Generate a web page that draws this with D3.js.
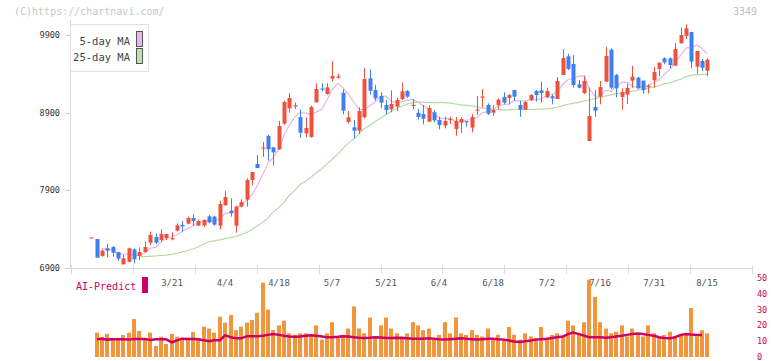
<!DOCTYPE html>
<html><head><meta charset="utf-8">
<script src="https://cdn.jsdelivr.net/npm/d3@7"></script>
<style>body{margin:0;background:#fff}svg{display:block}</style>
</head><body><svg id="c" width="772" height="361"></svg>
<script>
// ---- data ----
const opens = [7295,7273,7055,7153,7170,7106,6947,6981,7140,7055,7106,7226,7299,7260,7286,7280,7381,7454,7471,7544,7445,7449,7565,7561,7445,7707,7638,7445,7690,7780,8033,8239,8445,8600,8454,8428,8758,8956,8990,8844,8634,8587,9033,9212,9140,9338,9361,9157,8780,8711,8668,8840,9342,9192,9115,8999,8943,8977,9076,9179,8997,8900,8883,8784,8904,8806,8733,8816,8690,8771,8790,8707,8937,9104,8999,8900,8999,9102,9089,9192,8999,8939,9063,9179,9187,9097,9110,9076,9385,9625,9527,9265,9153,8535,8973,9106,9299,9711,9385,9102,9132,9312,9351,9312,9230,9316,9462,9600,9600,9505,9793,9891,9939,9492,9565,9441];
const highs = [7295,7273,7140,7209,7183,7106,7067,7162,7153,7166,7235,7368,7342,7398,7338,7359,7475,7505,7561,7591,7527,7527,7582,7570,7767,7891,7797,7703,7784,8055,8136,8355,8522,8617,8454,8793,9054,9153,9033,8943,8840,8990,9278,9278,9278,9565,9402,9200,8921,8806,8969,9475,9458,9256,9162,9063,9187,9093,9290,9192,9076,8947,8999,8999,8934,8848,8848,8848,8844,8840,8790,8883,9115,9205,9020,8999,9084,9162,9140,9192,9050,9050,9140,9192,9299,9222,9136,9359,9720,9660,9642,9320,9376,9222,9192,9308,9745,9728,9398,9213,9273,9501,9363,9312,9265,9488,9544,9612,9612,9797,9994,10037,9939,9694,9591,9600];
const lows = [7295,7033,7046,7037,7046,6994,6947,6973,6960,6999,7097,7192,7205,7239,7260,7256,7368,7368,7462,7445,7441,7432,7475,7445,7398,7703,7561,7355,7681,7690,7960,8187,8333,8282,8218,8419,8745,8900,8947,8578,8582,8578,9033,9175,9132,9303,9338,8878,8763,8569,8625,8827,9132,9054,8956,8878,8904,8921,9063,9093,8943,8814,8750,8784,8776,8685,8698,8754,8604,8638,8720,8647,8870,8964,8870,8857,8943,9007,9007,9050,8848,8934,9050,9042,9033,9084,9007,9076,9385,9449,9222,9213,9140,8535,8848,9007,9299,9205,9097,8939,9012,9222,9205,9145,9145,9222,9368,9522,9471,9505,9788,9848,9471,9406,9436,9372];
const closes = [7295,7033,7123,7123,7097,7020,7024,7153,7012,7106,7170,7325,7226,7338,7338,7284,7449,7436,7544,7505,7505,7518,7488,7458,7724,7814,7604,7690,7750,8033,8136,8187,8452,8428,8389,8728,9037,9089,8997,8642,8703,8973,9205,9207,9226,9372,9365,8926,8840,8668,8921,9333,9183,9084,9029,8934,9012,9063,9175,9106,9001,8844,8823,8960,8801,8741,8793,8820,8793,8818,8786,8844,8941,9108,8887,8934,9067,9029,9127,9106,8939,9037,9127,9127,9153,9179,9084,9308,9604,9462,9256,9222,9308,8857,8926,9230,9630,9222,9213,9166,9218,9363,9213,9192,9248,9424,9544,9548,9514,9720,9900,9986,9557,9694,9479,9582];
const ma25 = [null,null,null,null,null,null,null,null,null,7046,7046,7050,7055,7063,7067,7075,7090,7108,7125,7145,7170,7210,7240,7250,7262,7278,7292,7308,7330,7360,7392,7440,7490,7545,7620,7680,7745,7830,7900,7975,8020,8070,8120,8180,8240,8300,8370,8440,8505,8565,8630,8690,8740,8784,8830,8875,8915,8956,8985,9010,9030,9035,9035,9030,9030,9033,9030,9022,9012,9000,8995,8988,8975,8958,8950,8945,8940,8935,8937,8943,8943,8943,8943,8943,8945,8950,8956,8970,8990,9008,9020,9033,9050,9063,9080,9095,9115,9130,9145,9152,9165,9175,9190,9200,9215,9232,9250,9270,9285,9310,9330,9365,9380,9390,9394,9394];
const tickIndex = [15,25,35,45,55,65,75,85,95,105,115];
const tickLabels = ['3/21','4/4','4/18','5/7','5/21','6/4','6/18','7/2','7/16','7/31','8/15'];
const priceTicks = [6900,7900,8900,9900];
const aiTicks = [0,10,20,30,40,50];
// lower panel (from 2nd session on)
const aiBars = [15.4,12.7,14.6,10.8,10.8,13.9,15.4,24,16.5,11.8,15.4,7,12.9,8.2,14.6,12.9,11.8,11.8,15.8,10.8,19.2,18,15.4,25.5,21.7,26.6,17,19.2,21.7,23.4,28,47,30,17,20,23,15,14,15,15,14,20,11,15,22,12,14,18,32,18,15,25,12,20,25,18,15,13,15,22,20,17,18,12,14,22,15,25,15,14,17,14,13,18,12,14,11,19,14,11,15,13,12,19,12,14,15,13,23,20,15,22,49,38,22,18,15,16,20,13,18,14,13,20,15,12,14,16,13,14,14,31,13,17,15];
const aiLine = [11.2,11.5,11,11.2,11.2,11.2,11,11.4,11.4,11.4,10.8,11.2,11.2,11.2,9.2,10.5,11.6,11.4,11.4,11.2,10.6,10,10.6,10.6,13.7,12.5,11.8,11.8,13.2,13.2,13.2,13.4,14,14.5,14,13.5,13,12.8,13,13.5,13.8,13.5,13,12.5,12.5,12.8,13.2,13,12.5,12.2,12,12.2,12.5,12.3,12,12,12.2,12,11.8,11.5,11.5,11.6,11.8,11.5,11.2,11,11.2,11.5,11.8,11.5,11.2,11,11.2,11.5,11.5,11.2,11,10.5,9.8,9.5,10,10.5,11,11.2,11.5,12,12.5,13,14.5,15.5,14.5,13.5,12.5,12.5,12.5,12.2,12.5,13,13.5,14,14.5,14.8,14.5,14,13.5,12.5,12,11.8,12.5,14,14.5,14.2,14,14];

// ---- layout ----
const svg = d3.select('#c');
const mono = "'DejaVu Sans Mono', monospace";
const N = closes.length;
const x = d3.scaleBand().domain(d3.range(N)).range([88.6, 710]);
const cx = i => Math.round(x(i) + x.bandwidth() / 2);
const y = d3.scaleLinear().domain([6900, 9900]).range([268, 35]);
const yv = d3.scaleLinear().domain([0, 50]).range([357, 278]);
const UP = '#f0513d', DOWN = '#3f7fef';

// header
svg.append('text').attr('x', 14).attr('y', 15).attr('font-family', mono).attr('font-size', 10)
  .attr('fill', '#c8c8c8').text('(C)https://chartnavi.com/');
svg.append('text').attr('x', 757).attr('y', 15).attr('text-anchor', 'end').attr('font-family', mono)
  .attr('font-size', 10).attr('fill', '#c0c0c0').text('3349');

// axes lines
svg.append('line').attr('x1', 70.5).attr('x2', 70.5).attr('y1', 20).attr('y2', 268).attr('stroke', '#dcdcdc');
svg.append('line').attr('x1', 70).attr('x2', 753).attr('y1', 268.5).attr('y2', 268.5).attr('stroke', '#dcdcdc');
const gridX = d3.scaleLinear().domain([0, 11]).range([71, 752]);
svg.append('g').selectAll('line').data(d3.range(12)).join('line')
  .attr('x1', d => Math.round(gridX(d)) + 0.5).attr('x2', d => Math.round(gridX(d)) + 0.5)
  .attr('y1', 265).attr('y2', 274).attr('stroke', '#dcdcdc');

// price ticks
const yAxis = svg.append('g');
yAxis.selectAll('line').data(priceTicks).join('line')
  .attr('x1', 65).attr('x2', 70).attr('y1', d => Math.round(y(d)) + 0.5).attr('y2', d => Math.round(y(d)) + 0.5)
  .attr('stroke', '#ccc');
yAxis.selectAll('text').data(priceTicks).join('text')
  .attr('x', 60).attr('y', d => y(d) + 3).attr('text-anchor', 'end').attr('font-family', mono)
  .attr('font-size', 8.5).attr('fill', '#333').text(d => d);

// moving averages
const ma5 = closes.map((c, i) => i < 2 ? null : d3.mean(closes.slice(Math.max(0, i - 4), i + 1)));
const line = d3.line().defined(d => d[1] != null).x(d => cx(d[0])).y(d => y(d[1]));
svg.append('path').attr('d', line(ma25.map((v, i) => [i, v]))).attr('fill', 'none')
  .attr('stroke', '#b6dba6').attr('stroke-width', 1.2);
svg.append('path').attr('d', line(ma5.map((v, i) => [i, v]))).attr('fill', 'none')
  .attr('stroke', '#e8b4ea').attr('stroke-width', 1.2);

// candles
const cg = svg.append('g');
closes.forEach((c, i) => {
  const o = opens[i], col = c >= o ? UP : DOWN;
  const xc = cx(i);
  cg.append('line').attr('x1', xc + 0.5).attr('x2', xc + 0.5)
    .attr('y1', y(highs[i])).attr('y2', y(lows[i])).attr('stroke', col).attr('stroke-width', 1);
  const top = y(Math.max(o, c)), bot = y(Math.min(o, c));
  cg.append('rect').attr('x', xc - 1.5).attr('width', 4)
    .attr('y', top).attr('height', Math.max(1.2, bot - top)).attr('fill', col);
});

// legend
const lg = svg.append('g');
lg.append('rect').attr('x', 70.5).attr('y', 24.5).attr('width', 78).attr('height', 47)
  .attr('fill', '#fff').attr('stroke', '#e0e0e0');
[['5-day MA', '#ecb8ec', 31, 45], ['25-day MA', '#bde0ad', 48, 60.5]].forEach(([t, c, ry, ty]) => {
  lg.append('text').attr('x', 130).attr('y', ty).attr('text-anchor', 'end').attr('font-family', mono)
    .attr('font-size', 10.5).attr('fill', '#444').text(t);
  lg.append('rect').attr('x', 136.5).attr('y', ry + 0.5).attr('width', 6).attr('height', 15)
    .attr('fill', c).attr('stroke', '#555');
});

// x labels
svg.append('g').selectAll('text').data(tickIndex).join('text')
  .attr('x', d => cx(d)).attr('y', 286).attr('text-anchor', 'middle').attr('font-family', mono)
  .attr('font-size', 9).attr('fill', '#555').text((d, i) => tickLabels[i]);

// AI-Predict panel
svg.append('text').attr('x', 76).attr('y', 290).attr('font-family', mono).attr('font-size', 10)
  .attr('fill', '#cc0066').text('AI-Predict');
svg.append('rect').attr('x', 142).attr('y', 277).attr('width', 6).attr('height', 16).attr('fill', '#cc0066');

const bars = aiBars.slice(0, N - 1);
const pline = aiLine.slice(0, N - 1);
svg.append('g').selectAll('rect').data(bars).join('rect')
  .attr('x', (d, i) => cx(i + 1) - 2).attr('width', 4)
  .attr('y', d => yv(d)).attr('height', d => 357 - yv(d)).attr('fill', '#f2953d');
svg.append('path').attr('d', d3.line().x((d, i) => cx(i + 1)).y(d => yv(d))(pline))
  .attr('fill', 'none').attr('stroke', '#cc0066').attr('stroke-width', 2.5);

svg.append('g').selectAll('text').data(aiTicks).join('text')
  .attr('x', 757).attr('y', d => yv(d) + 3).attr('font-family', mono).attr('font-size', 8.5)
  .attr('fill', '#cc0066').text(d => d);
</script></body></html>
